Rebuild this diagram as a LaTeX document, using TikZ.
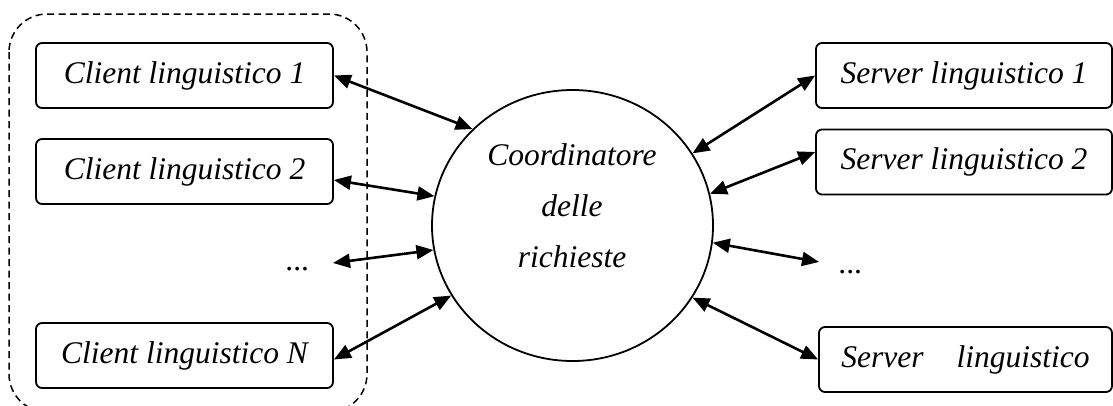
\documentclass[tikz,border=0pt]{standalone}
\usepackage{fontspec}
\setmainfont{Liberation Serif}
\usetikzlibrary{arrows.meta,shapes.geometric}
\tikzset{
  txt/.style={font=\fontsize{31.5}{51}\selectfont\itshape},
  rbox/.style={txt, draw, line width=1.8pt, rounded corners=6pt, inner sep=0pt, minimum height=65pt},
  link/.style={line width=2.6pt, {Triangle[length=17pt,width=14pt]}-{Triangle[length=17pt,width=14pt]}},
  group/.style={draw, dashed, dash pattern=on 7pt off 4.5pt, line width=1.5pt, rounded corners=38pt}
}
\begin{document}
\begin{tikzpicture}[x=1pt,y=-1pt]
\useasboundingbox (0,0) rectangle (1113,405);
% dashed group
\draw[group] (9,14) rectangle (367,412);
% clients
\node[rbox, minimum width=297pt] (c1) at (184.5,75.5) {Client linguistico 1};
\node[rbox, minimum width=297pt] (c2) at (184.5,171.5) {Client linguistico 2};
\node[txt, anchor=base] (cd) at (298,270) {...};
\coordinate (cdE) at (333,263);
\node[rbox, minimum width=297pt] (cN) at (184.5,355.5) {Client linguistico N};
% coordinator
\node[draw, ellipse, line width=1.8pt, inner sep=0pt, minimum width=281pt, minimum height=271pt] (co) at (572.5,225.5) {};
\node[txt, align=center] (ct) at (572,206) {Coordinatore\\delle\\richieste};
% servers
\node[rbox, minimum width=296pt] (s1) at (964,75.5) {Server linguistico 1};
\node[rbox, minimum width=296pt] (s2) at (964,162) {Server linguistico 2};
\node[txt, anchor=base] (sd) at (851,273) {...};
\coordinate (sdW) at (819,262);
\node[rbox, minimum width=293pt] (sN) at (965.5,359.5) {Server\hspace{33pt}linguistico};
% links
\draw[link] (c1.east) -- (co.136);
\draw[link] ([yshift=-8.5pt]c2.east) -- (co.168);
\draw[link] (cdE) -- (co.190);
\draw[link] ([yshift=-4pt]cN.east) -- (co.210.6);
\draw[link] (s1.west) -- (co.31.4);
\draw[link] ([yshift=10pt]s2.west) -- (co.13);
\draw[link] (sdW) -- (co.-7.1);
\draw[link] (sN.west) -- (co.-31.2);
\end{tikzpicture}
\end{document}
